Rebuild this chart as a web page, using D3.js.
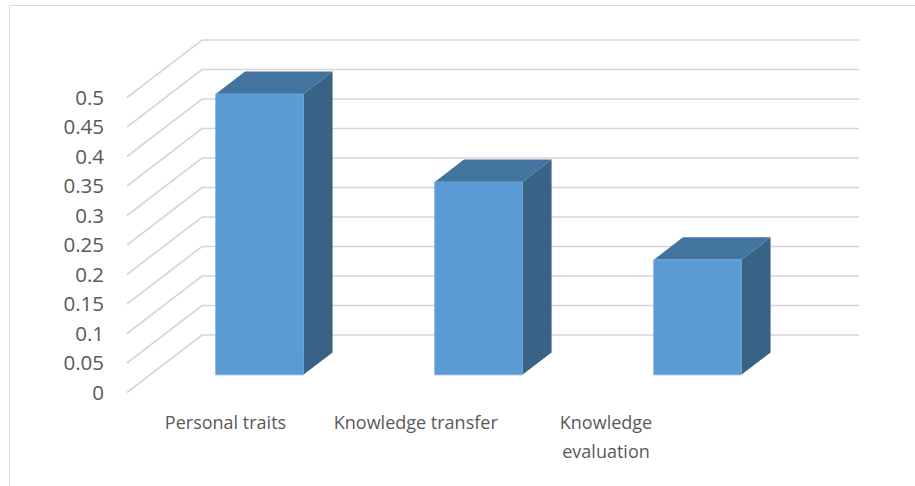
<!DOCTYPE html>
<html><head><meta charset="utf-8">
<script src="https://cdn.jsdelivr.net/npm/d3@7"></script>
<style>body{margin:0;background:#fff;}svg{display:block;}</style>
</head><body>
<svg id="chart" width="915" height="486"></svg>
<script>
const categories = ["Personal traits", "Knowledge transfer", "Knowledge evaluation"];
const labelLines = [["Personal traits"], ["Knowledge transfer"], ["Knowledge", "evaluation"]];
const values = [0.476, 0.327, 0.195];
const yTicks = [0, 0.05, 0.1, 0.15, 0.2, 0.25, 0.3, 0.35, 0.4, 0.45, 0.5];
const yTickLabels = ["0", "0.05", "0.1", "0.15", "0.2", "0.25", "0.3", "0.35", "0.4", "0.45", "0.5"];

const svg = d3.select("#chart");
// chart border
svg.append("path").attr("d", "M9.5,490 L9.5,5.5 L920,5.5").attr("fill", "none")
  .attr("stroke", "#d9d9d9").attr("stroke-width", 1);

const originX = 127, originY = 392.5, depthX = 75, depthY = 57.5, backRight = 859;
const frontW = backRight - depthX - originX;
const x = d3.scaleBand().domain(categories).range([originX, originX + frontW]).paddingInner(0.6).paddingOuter(0.3);
const y = d3.scaleLinear().domain([0, 0.5]).range([0, 295]);
const P = (px, v, d) => [px + d * depthX, originY - y(v) - d * depthY];

// gridlines
const grid = svg.append("g");
yTicks.forEach(t => {
  const a = P(originX, t, 0), b = P(originX, t, 1), c = [backRight, b[1]];
  grid.append("path").attr("d", `M${a[0]},${a[1]}L${b[0]},${b[1]}L${c[0]},${c[1]}`)
    .attr("fill", "none").attr("stroke", "#d6d6d6").attr("stroke-width", 1.6);
});

// y labels
svg.append("g").selectAll("text").data(yTicks).join("text")
  .attr("x", 104).attr("y", d => P(originX, d, 0)[1])
  .attr("dy", "0.36em").attr("text-anchor", "end")
  .attr("font-family", "Open Sans").attr("font-size", 20.5).attr("fill", "#595959")
  .text((d, i) => yTickLabels[i]);

// bars
const d0 = 0.307, d1 = 0.697;
const bars = svg.append("g");
categories.forEach((c, i) => {
  const x0 = x(c), x1 = x(c) + x.bandwidth(), v = values[i];
  const poly = pts => "M" + pts.map(p => p.join(",")).join("L") + "Z";
  // side
  bars.append("path").attr("d", poly([P(x1, 0, d0), P(x1, 0, d1), P(x1, v, d1), P(x1, v, d0)]))
    .attr("fill", "#386387");
  // top
  bars.append("path").attr("d", poly([P(x0, v, d0), P(x0, v, d1), P(x1, v, d1), P(x1, v, d0)]))
    .attr("fill", "#43739f");
  // front
  bars.append("path").attr("d", poly([P(x0, 0, d0), P(x0, v, d0), P(x1, v, d0), P(x1, 0, d0)]))
    .attr("fill", "#5b9bd5").attr("stroke", "#6fa8dc").attr("stroke-width", 0.8);
});

// category labels
const lx = d3.scalePoint().domain(categories).range([225.5, 606]);
const lab = svg.append("g").attr("font-family", "Open Sans").attr("font-size", 18).attr("fill", "#595959").attr("text-anchor", "middle");
categories.forEach((c, i) => {
  labelLines[i].forEach((ln, j) => {
    lab.append("text").attr("x", lx(c)).attr("y", 423 + j * 29).attr("dy", "0.36em").text(ln);
  });
});
</script>
</body></html>
